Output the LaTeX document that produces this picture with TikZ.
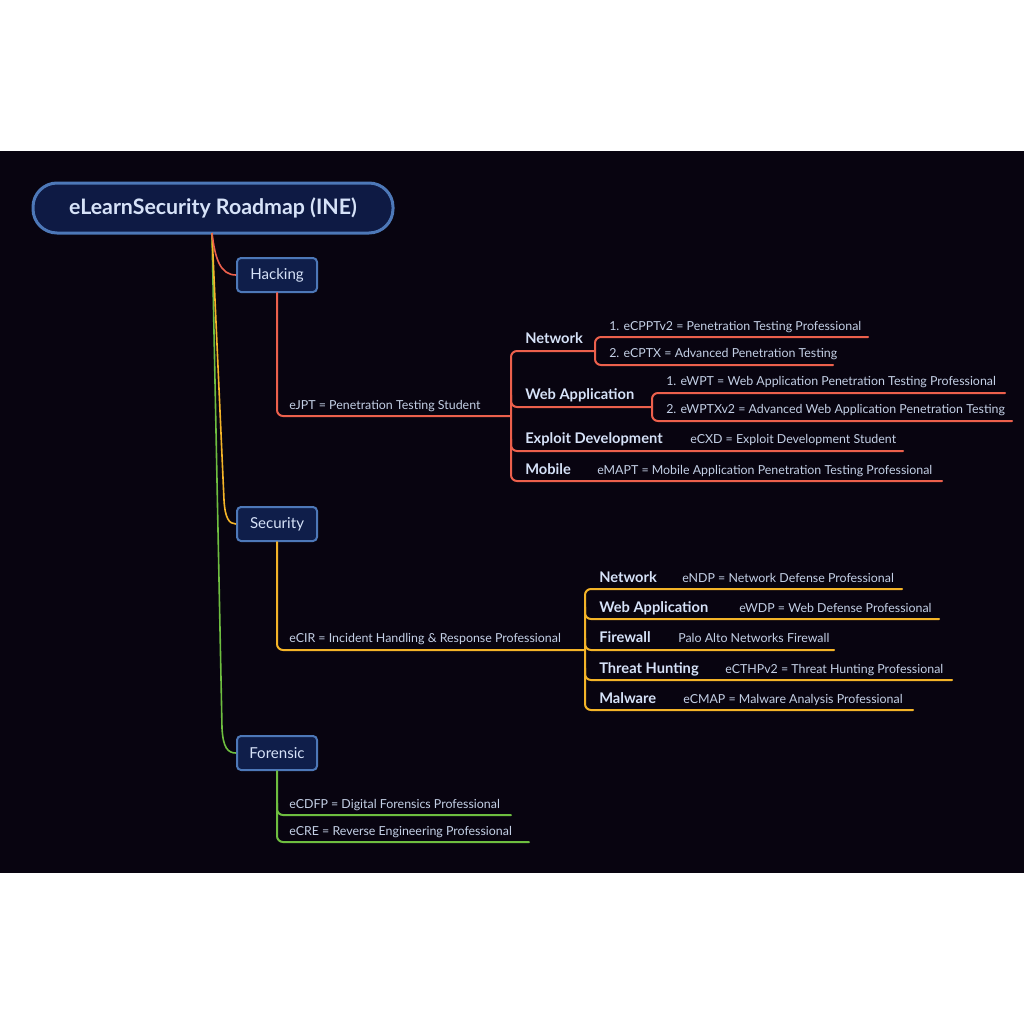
\documentclass[tikz,border=0pt]{standalone}
\usepackage{fontspec}
\setmainfont{Lato}
\definecolor{bgdark}{RGB}{8,4,16}
\definecolor{nodefill}{RGB}{15,30,74}
\definecolor{rootfill}{RGB}{14,26,68}
\definecolor{nodeborder}{RGB}{77,120,184}
\definecolor{labeltext}{RGB}{214,226,248}
\definecolor{itemtext}{RGB}{196,208,230}
\definecolor{hackred}{RGB}{236,96,76}
\definecolor{secyellow}{RGB}{244,180,40}
\definecolor{forgreen}{RGB}{110,190,64}
\tikzset{
  rootbox/.style={draw=nodeborder, fill=rootfill, line width=2.25pt, rounded corners=18pt,
    minimum width=270pt, minimum height=37.5pt, text=labeltext, font=\fontsize{16pt}{18pt}\selectfont\bfseries},
  catbox/.style={draw=nodeborder, fill=nodefill, line width=1.5pt, rounded corners=3pt,
    minimum width=60pt, minimum height=25.5pt, text=labeltext, font=\fontsize{11.3pt}{13pt}\selectfont},
  topic/.style={anchor=base west, inner sep=0pt, text=labeltext, font=\fontsize{11pt}{13pt}\selectfont\bfseries},
  item/.style={anchor=base west, inner sep=0pt, text=itemtext, font=\fontsize{9.3pt}{11pt}\selectfont},
  branch/.style={line width=1.5pt, rounded corners=4.5pt, line cap=round},
  trunk/.style={line width=1.2pt},
}
\begin{document}
\begin{tikzpicture}[x=0.75pt,y=-0.75pt]
\useasboundingbox (0,0) rectangle (1024,1024);
\fill[white] (0,0) rectangle (1024,1024);
\fill[bgdark] (0,151) rectangle (1024,873);

% root and categories
\node[rootbox] (root) at (213,208) {eLearnSecurity Roadmap (INE)};
\coordinate (rootb) at (212,233);

% trunk connectors
\coordinate (gt) at (222,728);
\coordinate (yt) at (224,500);
\node[catbox] (hack) at (277,275) {Hacking};
\node[catbox] (sec) at (277,524) {Security};
\node[catbox] (for) at (277,753) {Forensic};
\draw[trunk, forgreen] (rootb) -- (gt) .. controls (223,748) and (228,753) .. (for.west);
\draw[trunk, secyellow] (rootb) -- (yt) .. controls (225,518) and (229,524) .. (sec.west);
\draw[trunk, hackred] (rootb) .. controls (215,258) and (220,275) .. (hack.west);

% ---------- Hacking ----------
\coordinate (hj) at (511,416);
\draw[branch, hackred] (hack.south) |- (hj);
\node[item] (ejpt) at (289,409) {eJPT = Penetration Testing Student};

\draw[branch, hackred] (595,351) -- (511,351) -- (511,481) -- (942,481);
\draw[branch, hackred] (511,395) -- (511,407) -- (652,407);
\draw[branch, hackred] (511,439) -- (511,451) -- (903,451);
\draw[branch, hackred] (868,337) -- (595,337) -- (595,365) -- (833,365);
\draw[branch, hackred] (1005,393) -- (652,393) -- (652,421) -- (1012,421);

\node[topic] (hnet) at (525,343) {Network};
\node[item] (ecppt) at (609,330) {1. eCPPTv2 = Penetration Testing Professional};
\node[item] (ecptx) at (609,357) {2. eCPTX = Advanced Penetration Testing};
\node[topic] (hweb) at (525,399) {Web Application};
\node[item] (ewpt) at (666,385) {1. eWPT = Web Application Penetration Testing Professional};
\node[item] (ewptx) at (666,413) {2. eWPTXv2 = Advanced Web Application Penetration Testing};
\node[topic] (hexp) at (525,443) {Exploit Development};
\node[item] (ecxd) at (690,443) {eCXD = Exploit Development Student};
\node[topic] (hmob) at (525,474) {Mobile};
\node[item] (emapt) at (597,474) {eMAPT = Mobile Application Penetration Testing Professional};

% ---------- Security ----------
\coordinate (sj) at (585,650);
\draw[branch, secyellow] (sec.south) |- (sj);
\node[item] (ecir) at (289,642) {eCIR = Incident Handling \& Response Professional};
\draw[branch, secyellow] (902,589) -- (585,589) -- (585,710) -- (913,710);
\draw[branch, secyellow] (585,607) -- (585,619) -- (939,619);
\draw[branch, secyellow] (585,638) -- (585,650) -- (834,650);
\draw[branch, secyellow] (585,668) -- (585,680) -- (952,680);

\node[topic] (snet) at (599,582) {Network};
\node[item] (endp) at (682,582) {eNDP = Network Defense Professional};
\node[topic] (sweb) at (599,612) {Web Application};
\node[item] (ewdp) at (739,612) {eWDP = Web Defense Professional};
\node[topic] (sfw) at (599,642) {Firewall};
\node[item] (palo) at (678,642) {Palo Alto Networks Firewall};
\node[topic] (sth) at (599,673) {Threat Hunting};
\node[item] (ecthp) at (725,673) {eCTHPv2 = Threat Hunting Professional};
\node[topic] (smal) at (599,703) {Malware};
\node[item] (ecmap) at (683,703) {eCMAP = Malware Analysis Professional};

% ---------- Forensic ----------
\coordinate (fj) at (529,842);
\draw[branch, forgreen] (for.south) |- (fj);
\draw[branch, forgreen] (277,803) -- (277,815) -- (511,815);
\node[item] (ecdfp) at (289,808) {eCDFP = Digital Forensics Professional};
\node[item] (ecre) at (289,835) {eCRE = Reverse Engineering Professional};
\end{tikzpicture}
\end{document}
